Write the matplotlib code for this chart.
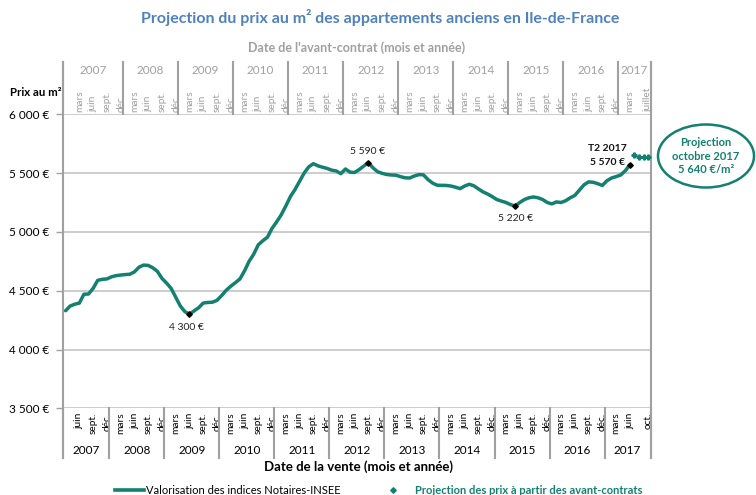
import numpy as np
import pandas as pd
import matplotlib
matplotlib.use("Agg")
import matplotlib.pyplot as plt
from matplotlib.lines import Line2D
from matplotlib.patches import Ellipse
from matplotlib.transforms import blended_transform_factory

plt.rcParams['font.family'] = ['Lato', 'DejaVu Sans']

# ---------------- data ----------------
start_month = "2007-03"
prices = [4330, 4370, 4385, 4395, 4470, 4472, 4520, 4588, 4597, 4600,
          4618, 4628, 4633, 4637, 4640, 4660, 4700, 4718, 4715, 4695,
          4665, 4605, 4565, 4520, 4445, 4370, 4322, 4300, 4328, 4355,
          4395, 4400, 4402, 4418, 4458, 4503, 4538, 4568, 4600, 4668,
          4750, 4810, 4890, 4925, 4955, 5030, 5085, 5145, 5220, 5300,
          5360, 5430, 5500, 5553, 5580, 5562, 5550, 5540, 5525, 5518,
          5495, 5535, 5508, 5505, 5530, 5560, 5590, 5545, 5512, 5498,
          5488, 5484, 5482, 5470, 5460, 5458, 5475, 5487, 5485, 5445,
          5415, 5397, 5396, 5395, 5390, 5380, 5368, 5390, 5405, 5392,
          5365, 5340, 5322, 5300, 5275, 5262, 5250, 5232, 5220, 5250,
          5275, 5290, 5297, 5290, 5275, 5250, 5238, 5255, 5250, 5265,
          5290, 5310, 5355, 5400, 5425, 5422, 5410, 5395, 5435, 5458,
          5470, 5484, 5520, 5570]
projection = [5655, 5635, 5640, 5640]          # juil. -> oct. 2017
labelled_months = ["2009-06", "2012-09", "2015-05", "2017-06"]
labelled_texts = ["4 300 €", "5 590 €", "5 220 €", "5 570 €"]

yticks = [3500, 4000, 4500, 5000, 5500, 6000]
ytick_labels = ["3 500 €", "4 000 €", "4 500 €", "5 000 €", "5 500 €", "6 000 €"]
years = list(range(2007, 2018))
month_names = {3: "mars", 6: "juin", 9: "sept.", 12: "déc."}

TEAL = "#138070"
GRID = "#c0c0c0"
SEP = "#a0a0a0"
GRAYTXT = "#a0a0a0"

# ---------------- layout ----------------
W, H = 756, 495
fig = plt.figure(figsize=(W / 100, H / 100), dpi=100)
L, R, T, B = 63.3, 650.5, 114.3, 408.3
ax = fig.add_axes([L / W, 1 - B / H, (R - L) / W, (B - T) / H])

months = pd.period_range(start_month, periods=len(prices) + len(projection), freq="M")
idx = {str(p): i for i, p in enumerate(months)}
x_all = np.arange(len(months))
x_line = x_all[:len(prices)]
x_proj = x_all[len(prices):]

ax.set_xlim(-0.5, len(months) - 0.5)
ax.set_ylim(3500, 6000)

# gridlines
for v in yticks:
    ax.axhline(v, color=GRID, lw=1.1, zorder=0)

ax.plot(x_line, prices, color=TEAL, lw=2.5, solid_capstyle="round", zorder=3)
ax.plot(x_proj, projection, ls="none", marker="P", ms=3.5, color=TEAL,
        mec=TEAL, zorder=3)

# labelled points
lx = [idx[m] for m in labelled_months]
ly = [prices[i] for i in lx]
ax.plot(lx, ly, ls="none", marker="D", ms=2.8, color="black", zorder=4)
offsets = [(-3, -13), (-1, 11), (0, -12)]
for (xx, yy, t, off) in zip(lx[:3], ly[:3], labelled_texts[:3], offsets):
    ax.annotate(t, (xx, yy), xytext=off, textcoords="offset pixels",
                ha="center", va="center", fontsize=7.5, color="#222222")
ax.annotate("T2 2017", (lx[3], ly[3]), xytext=(-22, 16), textcoords="offset pixels",
            ha="center", va="center", fontsize=7.5, fontweight="bold", color="#111111")
ax.annotate(labelled_texts[3], (lx[3], ly[3]), xytext=(-22, 2), textcoords="offset pixels",
            ha="center", va="center", fontsize=7.5, fontweight="bold", color="#111111")

# y axis
ax.set_yticks(yticks, ytick_labels)
ax.tick_params(axis="y", length=5, width=1, color=SEP, labelsize=8.5, pad=5)
for s in ["top", "right", "bottom", "left"]:
    ax.spines[s].set_visible(False)

# bottom month ticks (date de la vente)
bpos, blab = [], []
for i, p in enumerate(months):
    if i > 0 and p.month in month_names:
        bpos.append(i)
        blab.append(month_names[p.month])
# last label: oct. 2017
bpos[-1] = len(months) - 1
blab[-1] = "oct."
ax.set_xticks(bpos, blab, rotation=90, fontsize=7.3)
ax.tick_params(axis="x", length=0, pad=3, labelcolor="black")

# top month ticks (date de l'avant-contrat = vente - 3 mois)
tpos, tlab = [], []
for i, p in enumerate(months):
    a = p - 3
    if i > 0 and a.month in month_names:
        tpos.append(i)
        tlab.append(month_names[a.month])
tpos[-1] = len(months) - 1
tlab[-1] = "juillet"
sec = ax.secondary_xaxis("top")
sec.set_xticks(tpos, tlab, rotation=90, fontsize=7.3)
sec.tick_params(axis="x", length=0, pad=2, labelcolor=GRAYTXT)
for s in sec.spines.values():
    s.set_visible(False)

trans = blended_transform_factory(ax.transData, fig.transFigure)
fy = lambda py: 1 - py / H

# separators and year labels (bottom: sale year, top: avant-contrat year)
bbounds = [-0.5] + [(y - 2007) * 12 - 2.5 for y in years[1:]] + [len(months) - 0.5]
tbounds = [-0.5] + [(y - 2007) * 12 + 0.5 for y in years[1:]] + [len(months) - 0.5]
for b in bbounds:
    ax.plot([b, b], [fy(408.3), fy(458)], transform=trans, color=SEP, lw=1.5, clip_on=False)
for b in tbounds:
    ax.plot([b, b], [fy(62), fy(114.3)], transform=trans, color=SEP, lw=1.5, clip_on=False)
ax.plot([-0.5, -0.5], [fy(62), fy(458)], transform=trans, color=SEP, lw=1.5, clip_on=False)
ax.plot([len(months) - 0.5] * 2, [fy(62), fy(458)], transform=trans, color=SEP, lw=1.5, clip_on=False)
for k, y in enumerate(years):
    ax.text((bbounds[k] + bbounds[k + 1]) / 2, fy(450), str(y), transform=trans,
            ha="center", va="center", fontsize=8.5, color="black")
    ax.text((tbounds[k] + tbounds[k + 1]) / 2, fy(71), str(y), transform=trans,
            ha="center", va="center", fontsize=8.5, color=GRAYTXT)

# titles
fig.text(380 / W, fy(18), "Projection du prix au m² des appartements anciens en Ile-de-France",
         ha="center", va="center", fontsize=11.5, fontweight="bold", color="#4f81bd")
fig.text(357 / W, fy(48), "Date de l'avant-contrat (mois et année)",
         ha="center", va="center", fontsize=9, fontweight="bold", color=GRAYTXT)
fig.text(359 / W, fy(467), "Date de la vente (mois et année)",
         ha="center", va="center", fontsize=9.5, fontweight="bold", color="black")
fig.text(36 / W, fy(92), "Prix au m²", ha="center", va="center",
         fontsize=8.2, fontweight="bold", color="black")

# projection bubble
fig.add_artist(Ellipse((706 / W, fy(156)), 96 / W, 63 / H, transform=fig.transFigure,
                       fill=False, ec=TEAL, lw=1.8))
fig.text(706 / W, fy(156), "Projection\noctobre 2017\n5 640 €/m²", ha="center", va="center",
         fontsize=8, fontweight="bold", color=TEAL, linespacing=1.25)

# legend
fig.add_artist(Line2D([115 / W, 144 / W], [fy(490), fy(490)], transform=fig.transFigure,
                      color=TEAL, lw=2.6))
fig.text(146 / W, fy(490), "Valorisation des indices Notaires-INSEE", ha="left", va="center",
         fontsize=8, color="black")
fig.add_artist(Line2D([393 / W], [fy(490)], transform=fig.transFigure, ls="none",
                      marker="D", ms=2.8, color=TEAL))
fig.text(415 / W, fy(490), "Projection des prix à partir des avant-contrats", ha="left",
         va="center", fontsize=8, fontweight="bold", color=TEAL)

fig.savefig("out.png", dpi=100)
